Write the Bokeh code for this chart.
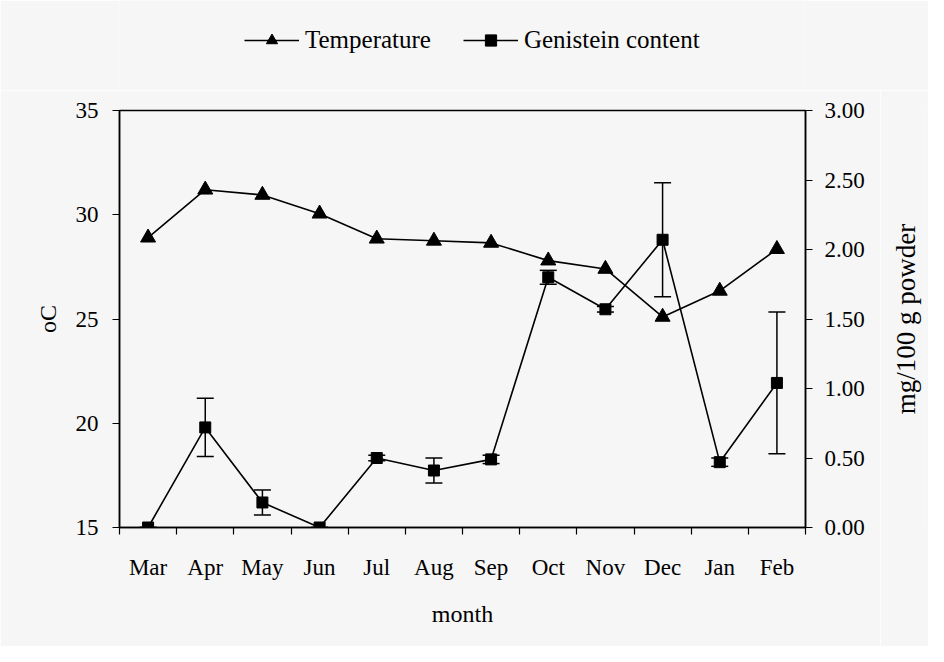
from bokeh.plotting import figure
from bokeh.layouts import column, row
from bokeh.models import (Range1d, LinearAxis, FixedTicker, Legend, LegendItem,
                          Whisker, ColumnDataSource, TeeHead)
from bokeh.embed import file_html
from bokeh.resources import INLINE

months = ["Mar", "Apr", "May", "Jun", "Jul", "Aug", "Sep", "Oct", "Nov", "Dec", "Jan", "Feb"]
temperature = [28.9, 31.2, 30.95, 30.05, 28.85, 28.75, 28.65, 27.8, 27.4, 25.1, 26.35, 28.35]
genistein = [0.0, 0.72, 0.18, 0.0, 0.50, 0.41, 0.49, 1.80, 1.57, 2.07, 0.47, 1.04]
genistein_err = [0.0, 0.21, 0.09, 0.0, 0.02, 0.09, 0.03, 0.05, 0.02, 0.41, 0.03, 0.51]
left_ticks = [15, 20, 25, 30, 35]
right_ticks = [0.0, 0.5, 1.0, 1.5, 2.0, 2.5, 3.0]
right_labels = ["0.00", "0.50", "1.00", "1.50", "2.00", "2.50", "3.00"]

FONT = "Liberation Serif"
BG = "#f6f6f6"

x = [i + 0.5 for i in range(len(months))]
src = ColumnDataSource(dict(
    x=x, temp=temperature, gen=genistein,
    lo=[g - e for g, e in zip(genistein, genistein_err)],
    hi=[g + e for g, e in zip(genistein, genistein_err)],
))
gen_range = Range1d(0, 3)

# ---------- main chart ----------
p = figure(width=880, height=556, output_backend="svg", toolbar_location=None,
           x_range=Range1d(0, len(months)), y_range=Range1d(15, 35),
           min_border_left=119, min_border_right=75, min_border_top=20, min_border_bottom=119,
           background_fill_color=BG, border_fill_color=BG)
p.extra_y_ranges = {"gen": gen_range}
p.grid.visible = False
p.outline_line_color = "black"
p.outline_line_width = 1.5

xa = p.xaxis[0]
xa.ticker = FixedTicker(ticks=x, minor_ticks=list(range(0, len(months) + 1)))
xa.major_label_overrides = {xv: m for xv, m in zip(x, months)}
xa.axis_label = "month"

ya = p.yaxis[0]
ya.ticker = FixedTicker(ticks=left_ticks)
ya.axis_label = "oC"

ra = LinearAxis(y_range_name="gen", ticker=FixedTicker(ticks=right_ticks))
ra.major_label_overrides = {t: l for t, l in zip(right_ticks, right_labels)}
p.add_layout(ra, "right")

for ax, standoff, lstand in [(xa, 20, 18), (ya, 14, 12), (ra, 12, 0)]:
    ax.axis_line_color = "black"
    ax.axis_line_width = 1.5
    ax.major_tick_out = 0 if ax is xa else 7
    ax.major_tick_in = 0
    ax.major_tick_line_width = 1.2
    ax.major_tick_line_color = None if ax is xa else "black"
    ax.minor_tick_line_color = "black" if ax is xa else None
    ax.minor_tick_out = 7
    ax.minor_tick_in = 0
    ax.minor_tick_line_width = 1.2
    ax.major_label_text_font = FONT
    ax.major_label_text_font_size = "23px"
    ax.major_label_text_color = "black"
    ax.major_label_standoff = standoff
    ax.axis_label_text_font = FONT
    ax.axis_label_text_font_size = "24px"
    ax.axis_label_text_font_style = "normal"
    ax.axis_label_text_color = "black"
    ax.axis_label_standoff = lstand

LINE = dict(line_color="black", line_width=1.6)
TRI = dict(marker="triangle", size=15, fill_color="black", line_color="black")
SQR = dict(marker="square", size=11, fill_color="black", line_color="black")

p.line("x", "temp", source=src, **LINE)
p.scatter("x", "temp", source=src, **TRI)

err = Whisker(base="x", lower="lo", upper="hi", source=src, y_range_name="gen",
              line_color="black", line_width=1.5,
              upper_head=TeeHead(size=17, line_color="black", line_width=1.5),
              lower_head=TeeHead(size=17, line_color="black", line_width=1.5))
p.add_layout(err)
p.line("x", "gen", source=src, y_range_name="gen", **LINE)
p.scatter("x", "gen", source=src, y_range_name="gen", **SQR)

# ---------- right-hand axis title (reads bottom to top) ----------
rf = figure(width=48, height=556, output_backend="svg", toolbar_location=None,
            x_range=Range1d(0, 1), y_range=gen_range, x_axis_location=None,
            min_border_left=44, min_border_right=0, min_border_top=20, min_border_bottom=119,
            background_fill_color=BG, border_fill_color=BG)
rf.grid.visible = False
rf.outline_line_color = None
ry = rf.yaxis[0]
ry.ticker = FixedTicker(ticks=[])
ry.axis_line_color = None
ry.major_tick_line_color = None
ry.minor_tick_line_color = None
ry.major_tick_out = 0
ry.major_label_standoff = 0
ry.axis_label = "mg/100 g powder"
ry.axis_label_text_font = FONT
ry.axis_label_text_font_size = "27px"
ry.axis_label_text_font_style = "normal"
ry.axis_label_text_color = "black"
ry.axis_label_standoff = 4

# ---------- legend strip above the chart (series lie outside its ranges) ----------
lf = figure(width=928, height=90, output_backend="svg", toolbar_location=None,
            x_range=Range1d(0, len(months)), y_range=Range1d(-20, -10),
            x_axis_location=None, y_axis_location=None,
            min_border_left=119, min_border_right=124, min_border_top=0, min_border_bottom=0,
            background_fill_color=BG, border_fill_color=BG)
lf.grid.visible = False
lf.outline_line_color = None
l1 = lf.line("x", "temp", source=src, **LINE)
m1 = lf.scatter("x", "temp", source=src, **TRI)
l2 = lf.line("x", "gen", source=src, **LINE)
m2 = lf.scatter("x", "gen", source=src, **SQR)

legend = Legend(items=[LegendItem(label="Temperature", renderers=[l1, m1]),
                       LegendItem(label="Genistein content", renderers=[l2, m2])],
                orientation="horizontal", location=(125, 36),
                glyph_width=55, glyph_height=28, label_standoff=6, spacing=32,
                padding=0, margin=0, border_line_color=None,
                background_fill_alpha=0,
                label_text_font=FONT, label_text_font_size="25px",
                label_text_color="black")
lf.add_layout(legend)

layout = column(lf, row(p, rf, spacing=0), spacing=0)
open("out.html", "w").write(file_html(layout, INLINE))
